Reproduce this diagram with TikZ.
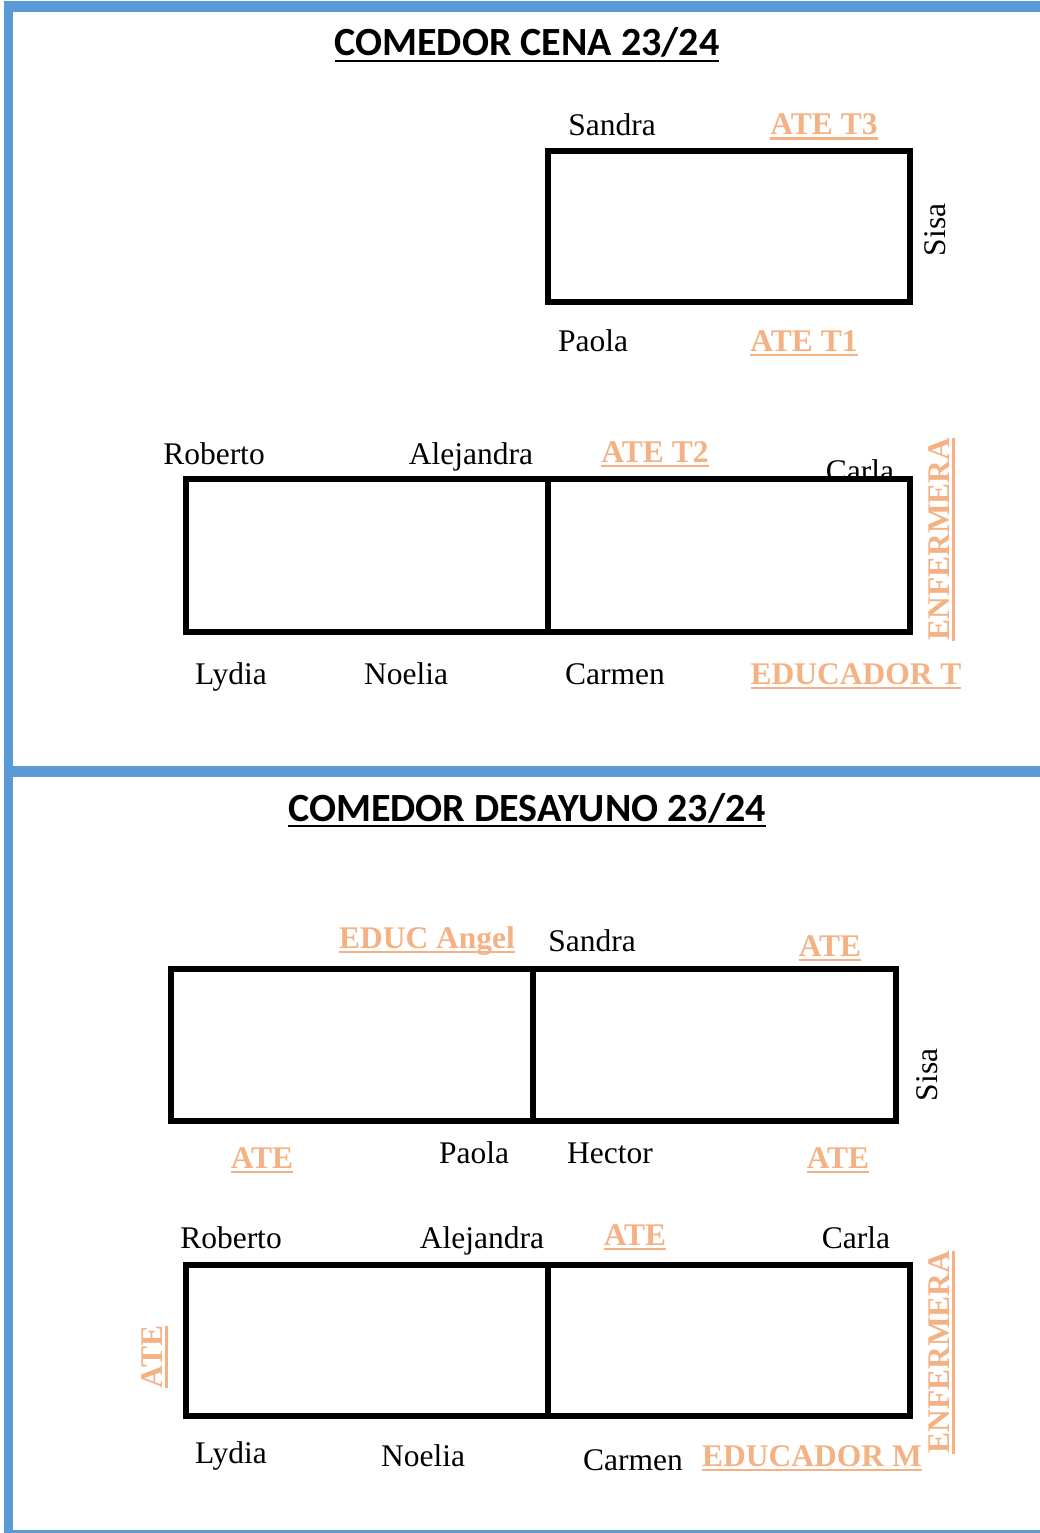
\documentclass[tikz,border=0pt]{standalone}
\usepackage{fontspec}
\setmainfont{Liberation Serif}
\newfontfamily\titlefont{Carlito}
\definecolor{bord}{HTML}{5B9BD5}
\definecolor{ora}{HTML}{F4B183}
\newcommand\ulrole[1]{\setbox0=\hbox{#1}\rlap{\copy0}\rule[-5pt]{\wd0}{2.5pt}}
\newcommand\ultitle[1]{\setbox0=\hbox{#1}\rlap{\copy0}\rule[-6pt]{\wd0}{2pt}}
\begin{document}
\begin{tikzpicture}[x=1pt,y=-1pt,
  person/.style={font=\fontsize{31.5}{36}\selectfont, inner sep=0pt, anchor=base},
  role/.style={font=\fontsize{31.5}{36}\selectfont\bfseries, text=ora, inner sep=0pt, anchor=base},
  vperson/.style={font=\fontsize{31.5}{36}\selectfont, inner sep=0pt, rotate=90},
  vrole/.style={font=\fontsize{31.5}{36}\selectfont\bfseries, text=ora, inner sep=0pt, rotate=90},
  heading/.style={font=\titlefont\bfseries\fontsize{40}{46}\selectfont, inner sep=0pt, anchor=base},
  table/.style={draw=black, line width=5.5pt},
  frame/.style={fill=bord}]
\useasboundingbox (0,0) rectangle (1040,1533);
\fill[white] (0,0) rectangle (1040,1533);
% frame
\fill[frame] (4,1) rectangle (1040,12);
\fill[frame] (4,1) rectangle (13,1533);
\fill[frame] (4,766) rectangle (1040,777);
\fill[frame] (4,1530) rectangle (1040,1533);

% ---------- CENA ----------
\node[heading] (t1) at (527,56) {\ultitle{COMEDOR CENA 23/24}};
\node[person] (c_sandra) at (612,136) {Sandra};
\node[role] (c_ate3) at (824,135) {\ulrole{ATE T3}};
\draw[table] (548,151) rectangle (910,302);
\node[vperson] (c_sisa) at (935,230) {Sisa};
\node[person] (c_paola) at (593,351) {Paola};
\node[role] (c_ate1) at (804,351) {\ulrole{ATE T1}};

\node[person] (c_roberto) at (214,464) {Roberto};
\node[person] (c_alejandra) at (471,464) {Alejandra};
\node[role] (c_ate2) at (655,462) {\ulrole{ATE T2}};
\node[person] (c_carla) at (860,481) {Carla};
\draw[table] (186,479) rectangle (910,632);
\draw[table] (548,479) -- (548,632);
\node[vrole] (c_enf) at (942,539) {\ulrole{ENFERMERA}};
\node[person] (c_lydia) at (231,684) {Lydia};
\node[person] (c_noelia) at (406,684) {Noelia};
\node[person] (c_carmen) at (615,684) {Carmen};
\node[role] (c_educ) at (856,684) {\ulrole{EDUCADOR T}};

% ---------- DESAYUNO ----------
\node[heading] (t2) at (527,821) {\ultitle{COMEDOR DESAYUNO 23/24}};
\node[role] (d_angel) at (427,948) {\ulrole{EDUC Angel}};
\node[person] (d_sandra) at (592,951) {Sandra};
\node[role] (d_ate_tr) at (830,956) {\ulrole{ATE}};
\draw[table] (171,969) rectangle (896,1121);
\draw[table] (533,969) -- (533,1121);
\node[vperson] (d_sisa) at (927,1075) {Sisa};
\node[role] (d_ate_bl) at (262,1168) {\ulrole{ATE}};
\node[person] (d_paola) at (474,1163) {Paola};
\node[person] (d_hector) at (610,1163) {Hector};
\node[role] (d_ate_br) at (838,1168) {\ulrole{ATE}};

\node[person] (d_roberto) at (231,1248) {Roberto};
\node[person] (d_alejandra) at (482,1248) {Alejandra};
\node[role] (d_ate_m) at (635,1245) {\ulrole{ATE}};
\node[person] (d_carla) at (856,1248) {Carla};
\draw[table] (186,1265) rectangle (910,1416);
\draw[table] (548,1265) -- (548,1416);
\node[vrole] (d_ate_left) at (155,1357) {\ulrole{ATE}};
\node[vrole] (d_enf) at (942,1352) {\ulrole{ENFERMERA}};
\node[person] (d_lydia) at (231,1463) {Lydia};
\node[person] (d_noelia) at (423,1466) {Noelia};
\node[person] (d_carmen) at (633,1470) {Carmen};
\node[role] (d_educ) at (812,1466) {\ulrole{EDUCADOR M}};
\end{tikzpicture}
\end{document}
